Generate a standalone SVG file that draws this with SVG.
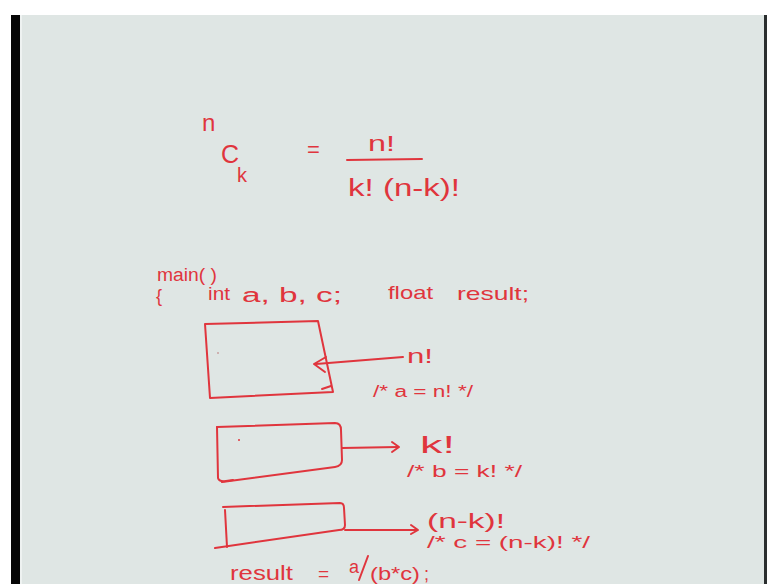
<svg xmlns="http://www.w3.org/2000/svg" width="767" height="584" viewBox="0 0 767 584">
<style>
.ink{fill:none;stroke:#e0353d;stroke-width:2;stroke-linecap:round;stroke-linejoin:round}
.t{fill:#e0353d;font-family:"Liberation Sans","DejaVu Sans",sans-serif}
</style>
<rect x="0" y="0" width="767" height="584" fill="#ffffff"/>
<rect x="21" y="15" width="744" height="569" fill="#dfe6e4"/>
<rect x="11" y="15" width="9" height="569" fill="#050505"/>
<rect x="20" y="15" width="2" height="569" fill="#eef2f1"/>
<rect x="764" y="15" width="3" height="569" fill="#2a2e2e"/>

<g id="formula">
<text class="t" x="202" y="131" font-size="24">n</text>
<text class="t" x="221" y="163" font-size="25">C</text>
<text class="t" x="237" y="182" font-size="20">k</text>
<text class="t" x="307" y="157" font-size="22">=</text>
<text class="t" x="368" y="151" font-size="22" textLength="27" lengthAdjust="spacingAndGlyphs">n!</text>
<path class="ink" d="M347,160 L422,159"/>
<text class="t" x="348" y="196" font-size="23" textLength="112" lengthAdjust="spacingAndGlyphs">k! (n-k)!</text>
</g>

<g id="code">
<text class="t" x="157" y="281" font-size="18" textLength="60" lengthAdjust="spacingAndGlyphs">main( )</text>
<text class="t" x="156" y="302" font-size="18">{</text>
<text class="t" x="208" y="300" font-size="18" textLength="22" lengthAdjust="spacingAndGlyphs">int</text>
<text class="t" x="242" y="302" font-size="20" textLength="100" lengthAdjust="spacingAndGlyphs">a, b, c;</text>
<text class="t" x="388" y="299" font-size="19" textLength="45" lengthAdjust="spacingAndGlyphs">float</text>
<text class="t" x="457" y="300" font-size="19" textLength="72" lengthAdjust="spacingAndGlyphs">result;</text>
</g>

<g id="box-a">
<path class="ink" d="M205,324 L318,321 L333,392 L210,398 Z"/>
<path class="ink" d="M322,389 L331,386"/>
<circle cx="218" cy="353" r="1" fill="#c9a0a0"/>
</g>
<g id="box-b">
<path class="ink" d="M217,427 L335,423 Q341,423 341,430 L342,460 Q342,466 335,467 L222,482"/>
<path class="ink" d="M217,427 L218,478 Q219,482 226,481 L233,480"/>
<circle cx="239" cy="440" r="1" fill="#e0353d"/>
</g>
<g id="box-c">
<path class="ink" d="M223,507 L340,503 Q344,503 344,508 L345,525 Q345,530 339,530 L215,548"/>
<path class="ink" d="M225,510 L227,547"/>
</g>

<g id="connectors">
<path class="ink" d="M403,357 L316,364"/>
<path class="ink" d="M326,357 L314,364 L325,372"/>
<path class="ink" d="M342,448 L398,447"/>
<path class="ink" d="M392,442 L399,447 L392,452"/>
<path class="ink" d="M345,530 L417,530"/>
<path class="ink" d="M411,525 L418,530 L411,534"/>
</g>

<g id="labels">
<text class="t" x="407" y="363" font-size="20" textLength="26" lengthAdjust="spacingAndGlyphs">n!</text>
<text class="t" x="373" y="397" font-size="16" textLength="100" lengthAdjust="spacingAndGlyphs">/* a = n! */</text>
<text class="t" x="420" y="453" font-size="24" textLength="35" lengthAdjust="spacingAndGlyphs">k!</text>
<text class="t" x="407" y="477" font-size="17" textLength="115" lengthAdjust="spacingAndGlyphs">/* b = k! */</text>
<text class="t" x="427" y="528" font-size="20" textLength="78" lengthAdjust="spacingAndGlyphs">(n-k)!</text>
<text class="t" x="427" y="548" font-size="17" textLength="163" lengthAdjust="spacingAndGlyphs">/* c = (n-k)! */</text>
</g>

<g id="result">
<text class="t" x="230" y="580" font-size="20" textLength="63" lengthAdjust="spacingAndGlyphs">result</text>
<text class="t" x="318" y="580" font-size="19">=</text>
<text class="t" x="349" y="573" font-size="18">a</text>
<path class="ink" d="M368,556 L359,580"/>
<text class="t" x="370" y="580" font-size="18" textLength="50" lengthAdjust="spacingAndGlyphs">(b*c)</text>
<text class="t" x="424" y="580" font-size="18">;</text>
</g>
</svg>
